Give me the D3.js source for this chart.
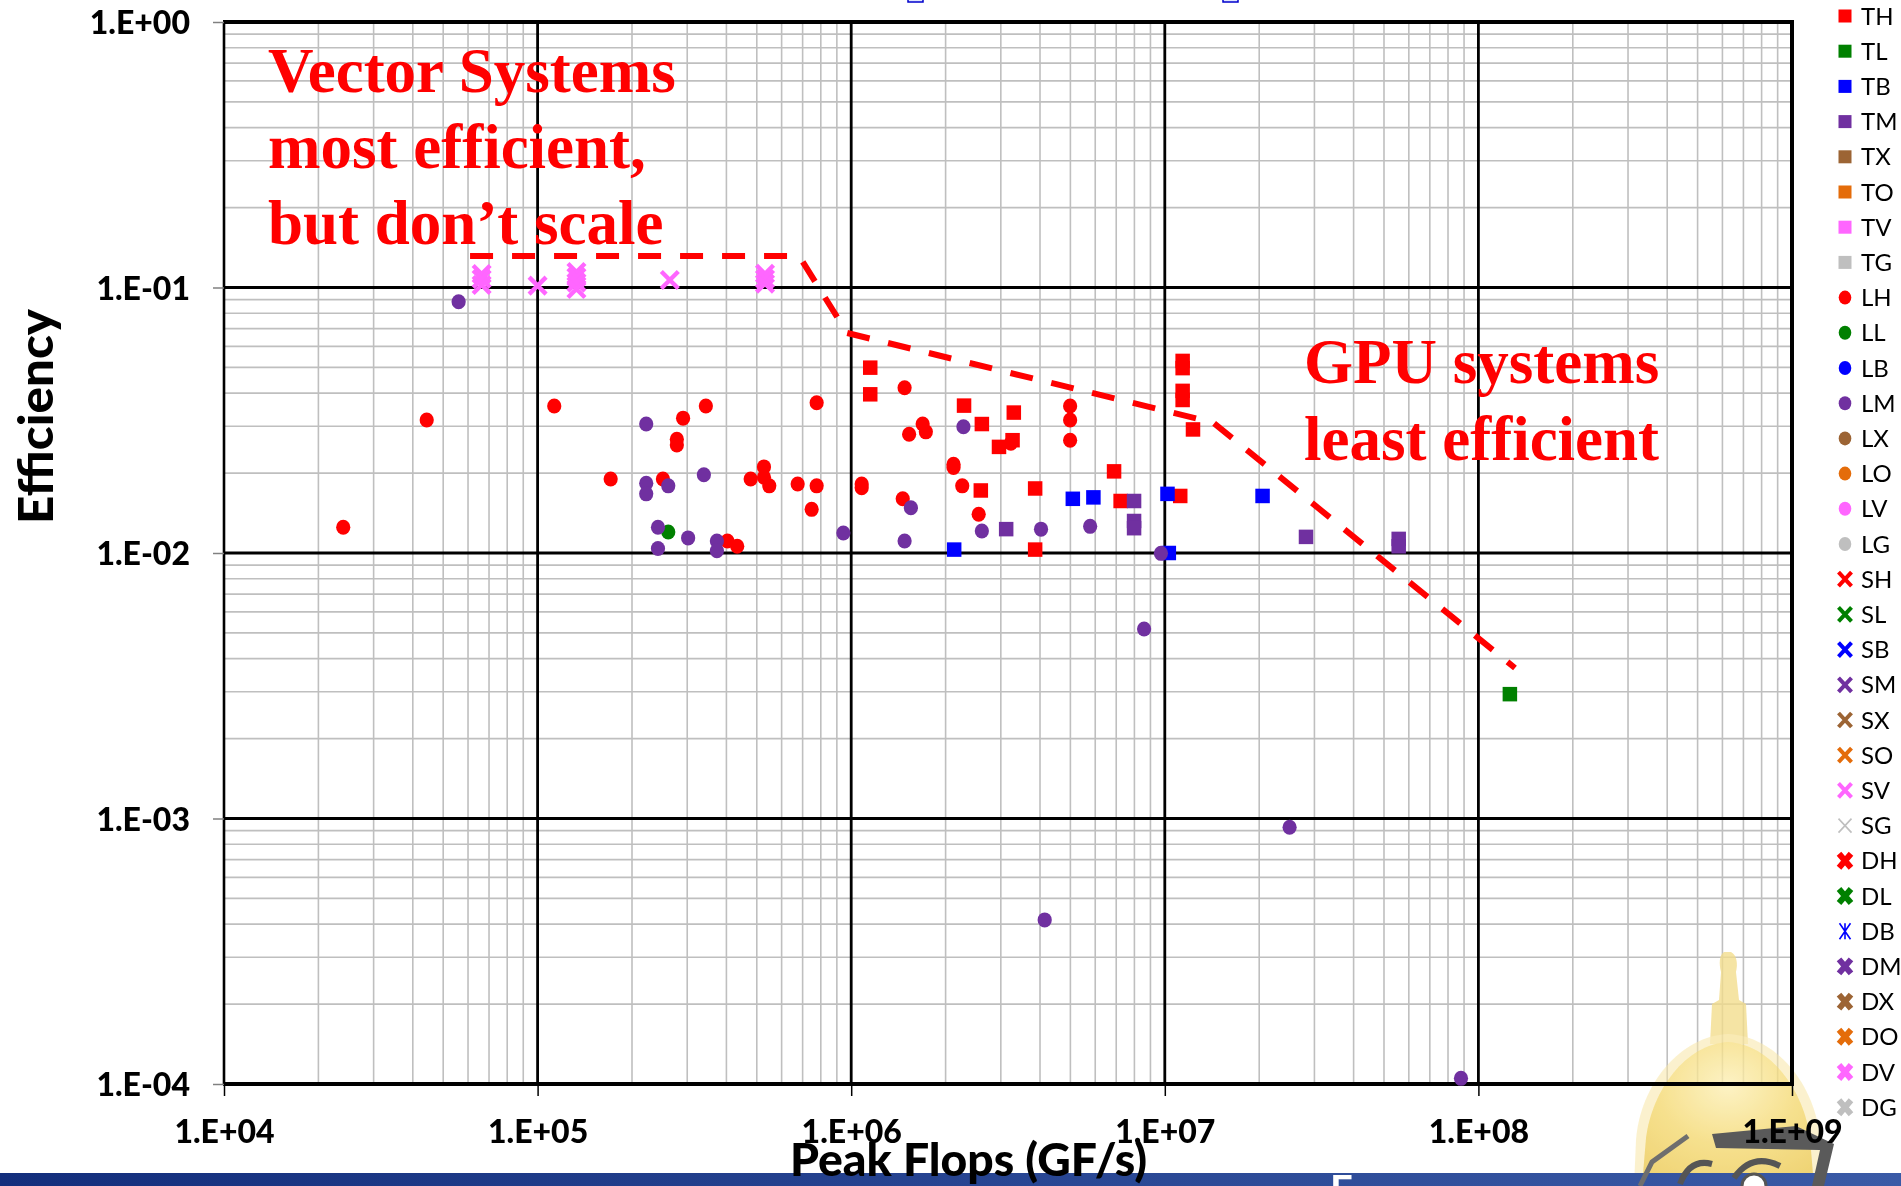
<!DOCTYPE html>
<html>
<head>
<meta charset="utf-8">
<script src="https://cdn.jsdelivr.net/npm/d3@7"></script>
<style>
  html, body { margin: 0; padding: 0; background: #ffffff; overflow: hidden; }
  svg { display: block; }
</style>
</head>
<body>
<svg id="chart" width="1901" height="1186"></svg>
<script>
// ---- axis ticks ----
const xTickValues = [1e4, 1e5, 1e6, 1e7, 1e8, 1e9];
const xTickLabels = ["1.E+04", "1.E+05", "1.E+06", "1.E+07", "1.E+08", "1.E+09"];
const yTickValues = [1, 1e-1, 1e-2, 1e-3, 1e-4];
const yTickLabels = ["1.E+00", "1.E-01", "1.E-02", "1.E-03", "1.E-04"];

// ---- legend categories ----
const seriesNames = ["TH","TL","TB","TM","TX","TO","TV","TG",
                     "LH","LL","LB","LM","LX","LO","LV","LG",
                     "SH","SL","SB","SM","SX","SO","SV","SG",
                     "DH","DL","DB","DM","DX","DO","DV","DG"];
const groupColors = { H: "#ff0000", L: "#008000", B: "#0000ff", M: "#7030a0",
                      X: "#9c6434", O: "#e46c0a", V: "#ff66ff", G: "#bfbfbf" };

// ---- series values: [peak GF/s, efficiency] ----
const TH = [
  [1.15e6, 0.0499], [1.15e6, 0.0396], [2.29e6, 0.0359], [2.61e6, 0.0306],
  [2.59e6, 0.0172], [2.96e6, 0.0251], [3.30e6, 0.0338], [3.27e6, 0.0266],
  [3.86e6, 0.0175], [3.86e6, 0.0103], [6.89e6, 0.0203], [7.23e6, 0.0157],
  [1.14e7, 0.0529], [1.14e7, 0.0497], [1.14e7, 0.0408], [1.14e7, 0.0377],
  [1.12e7, 0.0164], [1.23e7, 0.0292]
];
const TL = [[1.26e8, 0.00294]];
const TB = [
  [2.13e6, 0.0103], [5.09e6, 0.0160], [5.92e6, 0.0162],
  [1.02e7, 0.0167], [1.03e7, 0.0100], [2.05e7, 0.0164]
];
const TM = [
  [3.12e6, 0.0123], [7.98e6, 0.0157], [7.98e6, 0.0132], [7.98e6, 0.0124],
  [2.82e7, 0.0115], [5.57e7, 0.0113], [5.57e7, 0.0106]
];
const LH = [
  [2.40e4, 0.0125], [4.43e4, 0.0317], [1.13e5, 0.0358], [1.71e5, 0.0190],
  [2.51e5, 0.0190], [2.78e5, 0.0268], [2.78e5, 0.0255], [2.91e5, 0.0322],
  [3.44e5, 0.0358], [4.03e5, 0.0111], [4.33e5, 0.0106], [4.78e5, 0.0190],
  [5.27e5, 0.0211], [5.27e5, 0.0193], [5.48e5, 0.0179], [6.75e5, 0.0182],
  [7.48e5, 0.0146], [7.76e5, 0.0179], [7.76e5, 0.0368], [1.08e6, 0.0182],
  [1.08e6, 0.0176], [1.46e6, 0.0160], [1.48e6, 0.0419], [1.53e6, 0.0280],
  [1.69e6, 0.0306], [1.73e6, 0.0286], [2.12e6, 0.0216], [2.12e6, 0.0210],
  [2.26e6, 0.0179], [2.55e6, 0.0140], [3.23e6, 0.0259], [4.99e6, 0.0358],
  [4.99e6, 0.0317], [4.99e6, 0.0266]
];
const LL = [[2.61e5, 0.0120]];
const LM = [
  [5.60e4, 0.0884], [2.22e5, 0.0306], [2.22e5, 0.0183], [2.22e5, 0.0167],
  [2.61e5, 0.0179], [2.42e5, 0.0125], [2.42e5, 0.0104], [3.02e5, 0.0114],
  [3.39e5, 0.0197], [3.73e5, 0.0111], [3.73e5, 0.0102], [9.44e5, 0.0119],
  [1.48e6, 0.0111], [1.55e6, 0.0148], [2.28e6, 0.0299], [2.61e6, 0.0121],
  [4.03e6, 0.0123], [5.78e6, 0.0126], [8.59e6, 0.00517], [9.72e6, 0.00997],
  [4.14e6, 0.000415], [2.50e7, 0.000927], [8.80e7, 0.000105]
];
const SV = [
  [6.63e4, 0.1124], [6.63e4, 0.1076], [6.63e4, 0.1022], [1.00e5, 0.1016],
  [1.33e5, 0.1144], [1.33e5, 0.1094], [1.33e5, 0.1043], [1.33e5, 0.0987],
  [2.64e5, 0.1067], [5.31e5, 0.1126], [5.31e5, 0.1076], [5.31e5, 0.1034]
];

// ---- efficiency envelope (dashed) ----
const envelopePeak = [6.09e4, 6.82e5, 9.70e5, 1.425e7, 1.308e8];
const envelopeEff  = [0.1315, 0.1315, 0.0674, 0.0310, 0.00369];

// ---- layout ----
const svg = d3.select("#chart");
const plot = { left: 224, right: 1792, top: 22, bottom: 1084 };
const x = d3.scaleLog().domain([1e4, 1e9]).range([plot.left, plot.right]);
const y = d3.scaleLog().domain([1e-4, 1]).range([plot.bottom, plot.top]);
const defs = svg.append("defs");

svg.append("rect").attr("width", 1901).attr("height", 1186).attr("fill", "#ffffff");

// minor grid (2..9 within each decade)
const minorX = [], minorY = [];
xTickValues.slice(0, -1).forEach(d => { for (let k = 2; k <= 9; k++) minorX.push(d * k); });
yTickValues.slice(1).forEach(d => { for (let k = 2; k <= 9; k++) minorY.push(d * k); });

const grid = svg.append("g");
grid.selectAll("line.mx").data(minorX).join("line")
  .attr("x1", d => x(d)).attr("x2", d => x(d))
  .attr("y1", plot.top).attr("y2", plot.bottom)
  .attr("stroke", "#bfbfbf").attr("stroke-width", 1.6);
grid.selectAll("line.my").data(minorY).join("line")
  .attr("y1", d => y(d)).attr("y2", d => y(d))
  .attr("x1", plot.left).attr("x2", plot.right)
  .attr("stroke", "#bfbfbf").attr("stroke-width", 1.6);
grid.selectAll("line.MX").data(xTickValues.slice(1, -1)).join("line")
  .attr("x1", d => x(d)).attr("x2", d => x(d))
  .attr("y1", plot.top).attr("y2", plot.bottom)
  .attr("stroke", "#000").attr("stroke-width", 2.8);
grid.selectAll("line.MY").data(yTickValues.slice(1, -1)).join("line")
  .attr("y1", d => y(d)).attr("y2", d => y(d))
  .attr("x1", plot.left).attr("x2", plot.right)
  .attr("stroke", "#000").attr("stroke-width", 2.8);

// slide art: golden dome, bottom right, semi-transparent over the grid
const dg = defs.append("radialGradient").attr("id", "domeGrad")
  .attr("cx", "50%").attr("cy", "30%").attr("r", "75%");
dg.append("stop").attr("offset", "0%").attr("stop-color", "#fcefb4");
dg.append("stop").attr("offset", "55%").attr("stop-color", "#f4d86e");
dg.append("stop").attr("offset", "100%").attr("stop-color", "#ebc84f");
const dome = svg.append("g").attr("opacity", 0.78);
// statue and lantern
dome.append("path")
  .attr("d", "M1724,952 C1719,955 1719,964 1721,972 L1719,1000 L1712,1004 L1710,1044 L1748,1044 L1746,1004 L1739,1000 L1736,972 C1738,964 1737,955 1731,952 Z")
  .attr("fill", "#f3dc8a");
// outer halo
dome.append("path")
  .attr("d", "M1634,1186 L1636,1140 C1640,1085 1680,1036 1728,1034 C1776,1036 1816,1085 1820,1140 L1822,1186 Z")
  .attr("fill", "#f8e7a6").attr("opacity", 0.7);
// main dome
dome.append("path")
  .attr("d", "M1642,1186 L1646,1138 C1652,1090 1686,1044 1728,1042 C1770,1044 1804,1090 1810,1138 L1814,1186 Z")
  .attr("fill", "url(#domeGrad)");

// footer band
const fg = defs.append("linearGradient").attr("id", "footGrad");
fg.append("stop").attr("offset", "0%").attr("stop-color", "#132e7c");
fg.append("stop").attr("offset", "100%").attr("stop-color", "#3a5aa6");
svg.append("rect").attr("x", 0).attr("y", 1173).attr("width", 1901).attr("height", 13)
  .attr("fill", "url(#footGrad)");

// building in front of the dome
const bld = svg.append("g");
bld.append("path").attr("d", "M1712,1134 L1796,1126 L1834,1144 L1824,1186 L1812,1186 L1820,1150 L1716,1148 Z")
  .attr("fill", "#5a5a5a");
bld.append("path").attr("d", "M1640,1186 L1652,1162 L1688,1136")
  .attr("fill", "none").attr("stroke", "#6e6e6e").attr("stroke-width", 5);
bld.append("path").attr("d", "M1680,1184 Q1690,1158 1712,1164")
  .attr("fill", "none").attr("stroke", "#555").attr("stroke-width", 6);
bld.append("path").attr("d", "M1734,1178 Q1752,1152 1780,1166")
  .attr("fill", "none").attr("stroke", "#555").attr("stroke-width", 6);
bld.append("circle").attr("cx", 1754).attr("cy", 1186).attr("r", 12)
  .attr("fill", "#ffffff").attr("stroke", "#555").attr("stroke-width", 3);
svg.append("text").attr("x", 1330).attr("y", 1204).text("F")
  .attr("font-family", "Lato").attr("font-weight", 700).attr("font-size", 40)
  .attr("fill", "#ffffff");
// slide items peeking in above the chart
svg.append("g").selectAll("rect").data([908, 1223]).join("rect")
  .attr("x", d => d).attr("y", -10).attr("width", 15).attr("height", 12)
  .attr("fill", "#dfe6ff").attr("stroke", "#0000cc").attr("stroke-width", 1.5);

// plot frame
svg.append("line").attr("x1", plot.left).attr("x2", plot.left)
  .attr("y1", plot.top).attr("y2", plot.bottom).attr("stroke", "#000").attr("stroke-width", 2.6);
svg.append("line").attr("x1", plot.left - 1).attr("x2", plot.right + 2)
  .attr("y1", plot.top).attr("y2", plot.top).attr("stroke", "#000").attr("stroke-width", 4);
svg.append("line").attr("x1", plot.left - 1).attr("x2", plot.right + 2)
  .attr("y1", plot.bottom).attr("y2", plot.bottom).attr("stroke", "#000").attr("stroke-width", 4);
svg.append("line").attr("x1", plot.right).attr("x2", plot.right)
  .attr("y1", plot.top).attr("y2", plot.bottom).attr("stroke", "#000").attr("stroke-width", 4);

// axes
const tickFont = g => g.selectAll("text")
  .attr("font-family", "Lato").attr("font-weight", 900).attr("font-size", 32).attr("fill", "#000");

const xAxis = svg.append("g").attr("transform", `translate(0,${plot.bottom})`)
  .call(d3.axisBottom(x).tickValues(xTickValues).tickFormat((d, i) => xTickLabels[i]).tickSize(12));
xAxis.select(".domain").remove();
xAxis.selectAll(".tick line").attr("stroke", "#000").attr("stroke-width", 1.5);
xAxis.selectAll("text").attr("y", 59).attr("dy", null);
xAxis.call(tickFont);

const yAxis = svg.append("g").attr("transform", `translate(${plot.left},0)`)
  .call(d3.axisLeft(y).tickValues(yTickValues).tickFormat((d, i) => yTickLabels[i]).tickSize(11));
yAxis.select(".domain").remove();
yAxis.selectAll(".tick line").attr("stroke", "#808080").attr("stroke-width", 1.5);
yAxis.selectAll("text").attr("x", -34).attr("dy", "0.36em");
yAxis.call(tickFont);

// axis titles
svg.append("text").text("Peak Flops (GF/s)")
  .attr("x", 790).attr("y", 1176)
  .attr("textLength", 357).attr("lengthAdjust", "spacingAndGlyphs")
  .attr("font-family", "Lato").attr("font-weight", 900).attr("font-size", 45).attr("fill", "#000");
svg.append("text").text("Efficiency")
  .attr("transform", "translate(53,524) rotate(-90)")
  .attr("textLength", 215).attr("lengthAdjust", "spacingAndGlyphs")
  .attr("font-family", "Lato").attr("font-weight", 900).attr("font-size", 47).attr("fill", "#000");

// markers
const sq = 14.5, rad = 7.1;
function squares(data, color) {
  svg.append("g").selectAll("rect").data(data).join("rect")
    .attr("x", d => x(d[0]) - sq / 2).attr("y", d => y(d[1]) - sq / 2)
    .attr("width", sq).attr("height", sq).attr("fill", color);
}
function circles(data, color) {
  svg.append("g").selectAll("ellipse").data(data).join("ellipse")
    .attr("cx", d => x(d[0])).attr("cy", d => y(d[1]))
    .attr("rx", rad).attr("ry", rad + 0.4).attr("fill", color);
}
function crosses(data, color) {
  svg.append("g").selectAll("path").data(data).join("path")
    .attr("transform", d => `translate(${x(d[0])},${y(d[1])})`)
    .attr("d", "M-8.5,-8.5L8.5,8.5M-8.5,8.5L8.5,-8.5")
    .attr("stroke", color).attr("stroke-width", 4.4).attr("fill", "none");
}

// dashed envelope
const envelope = envelopePeak.map((p, i) => [p, envelopeEff[i]]);
svg.append("path").datum(envelope)
  .attr("d", d3.line().x(d => x(d[0])).y(d => y(d[1])))
  .attr("fill", "none").attr("stroke", "#ff0000").attr("stroke-width", 6)
  .attr("stroke-dasharray", "23 19");

squares(TH, groupColors.H);
squares(TL, groupColors.L);
squares(TB, groupColors.B);
squares(TM, groupColors.M);
circles(LH, groupColors.H);
circles(LL, groupColors.L);
circles(LM, groupColors.M);
crosses(SV, groupColors.V);

// annotations
const noteStyle = t => t.attr("font-family", "Liberation Serif").attr("font-weight", 700)
  .attr("font-size", 63).attr("fill", "#ff0000");
const vec = svg.append("text").call(noteStyle);
[["Vector Systems", 92], ["most efficient,", 168], ["but don\u2019t scale", 244]].forEach(([s, yy]) =>
  vec.append("tspan").attr("x", 268).attr("y", yy).text(s));
const gpu = svg.append("text").call(noteStyle);
[["GPU systems", 383], ["least efficient", 460]].forEach(([s, yy]) =>
  gpu.append("tspan").attr("x", 1304).attr("y", yy).text(s));

// legend
const legend = svg.append("g");
const rowY = i => 16 + i * 35.2;
seriesNames.forEach((name, i) => {
  const kind = name[0], color = groupColors[name[1]];
  const g = legend.append("g").attr("transform", `translate(1845,${rowY(i)})`);
  if (kind === "T") {
    g.append("rect").attr("x", -6.5).attr("y", -6.5).attr("width", 13).attr("height", 13).attr("fill", color);
  } else if (kind === "L") {
    g.append("ellipse").attr("rx", 6.3).attr("ry", 7).attr("fill", color);
  } else if (kind === "S") {
    const thin = name === "SG";
    g.append("path").attr("d", "M-6.5,-7L6.5,7M-6.5,7L6.5,-7")
      .attr("stroke", color).attr("stroke-width", thin ? 1.6 : 4).attr("fill", "none");
  } else {
    if (name === "DB") {
      g.append("path").attr("d", "M-5.5,-8L5.5,8M-5.5,8L5.5,-8M0,-8L0,8")
        .attr("stroke", color).attr("stroke-width", 1.6).attr("fill", "none");
    } else {
      g.append("path").attr("d", "M-6,-7L6,7M-6,7L6,-7")
        .attr("stroke", color).attr("stroke-width", 6).attr("fill", "none");
    }
  }
  legend.append("text").text(name)
    .attr("x", 1861).attr("y", rowY(i)).attr("dy", "0.36em")
    .attr("font-family", "Lato").attr("font-size", 24).attr("fill", "#000");
});
</script>
</body>
</html>
